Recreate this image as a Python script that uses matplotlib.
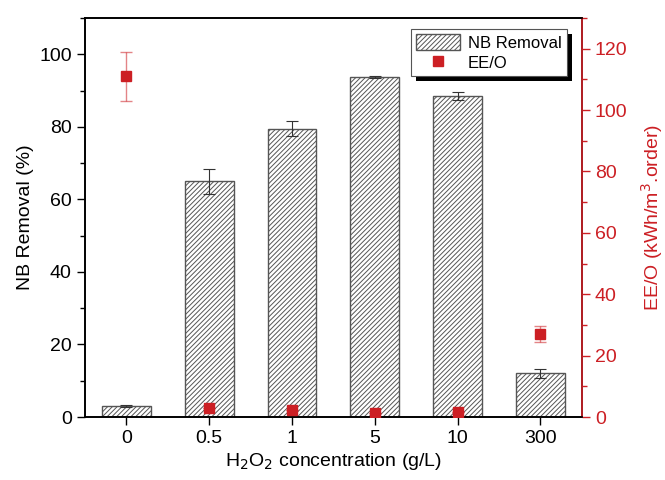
import numpy as np
import matplotlib
matplotlib.use("Agg")
import matplotlib.pyplot as plt
from matplotlib.ticker import MultipleLocator
from matplotlib.patches import Rectangle

plt.rcParams['font.family'] = ['Liberation Sans', 'DejaVu Sans']
plt.rcParams['hatch.linewidth'] = 0.7
plt.rcParams['hatch.color'] = '#333333'

# data
concentrations = ['0', '0.5', '1', '5', '10', '300']
nb_removal = [3.0, 65.0, 79.5, 93.8, 88.5, 12.0]
nb_err = [0.3, 3.5, 2.0, 0.3, 1.2, 1.3]
ee_o = [111.0, 3.0, 2.3, 1.2, 1.6, 27.0]
ee_o_err = [8.0, 0.0, 0.0, 0.0, 0.0, 2.7]

red = '#CC1F24'
x = np.arange(len(concentrations))

fig = plt.figure(figsize=(6.65, 4.8), dpi=100)
ax = fig.add_axes([85 / 665, 1 - 417 / 480, (581.7 - 85) / 665, (417 - 18) / 480])

bars = ax.bar(x, nb_removal, width=0.59, color='white', edgecolor='#555555',
              linewidth=1.0, hatch='///////', label='NB Removal', zorder=2)
ax.errorbar(x, nb_removal, yerr=nb_err, fmt='none', ecolor='#333333',
            elinewidth=0.8, capsize=4, capthick=0.8, zorder=3)

ax.set_xlim(-0.5, 5.5)
ax.set_ylim(0, 110)
ax.set_xticks(x)
ax.set_xticklabels(concentrations)
ax.yaxis.set_major_locator(MultipleLocator(20))
ax.yaxis.set_minor_locator(MultipleLocator(10))
ax.tick_params(axis='both', which='major', direction='out', length=6, width=1.0, labelsize=14)
ax.tick_params(axis='y', which='minor', direction='out', length=3.5, width=1.0)
ax.set_ylabel('NB Removal (%)', fontsize=14)
ax.set_xlabel('H$_2$O$_2$ concentration (g/L)', fontsize=14, labelpad=3)
for s in ax.spines.values():
    s.set_linewidth(1.2)

ax2 = ax.twinx()
ax2.errorbar(x, ee_o, yerr=ee_o_err, fmt='none', ecolor=red, alpha=0.55,
             elinewidth=1.0, capsize=4, capthick=1.0, zorder=3)
pts, = ax2.plot(x, ee_o, 's', color=red, markersize=7, label='EE/O', zorder=4)
ax2.set_ylim(0, 130)
ax2.yaxis.set_major_locator(MultipleLocator(20))
ax2.yaxis.set_minor_locator(MultipleLocator(10))
ax2.tick_params(axis='y', which='major', direction='out', length=6, width=1.0,
                labelsize=14, colors=red)
ax2.tick_params(axis='y', which='minor', direction='out', length=3.5, width=1.0, colors=red)
ax2.set_ylabel('EE/O (kWh/m$^3$.order)', fontsize=14, color=red, labelpad=8)
for s in ax2.spines.values():
    s.set_linewidth(1.2)
ax2.spines['right'].set_color(red)

leg = ax2.legend([bars, pts], ['NB Removal', 'EE/O'], loc='upper right',
                 bbox_to_anchor=(0.97, 0.972), borderaxespad=0, fontsize=12,
                 frameon=True, fancybox=False, edgecolor='#555555', framealpha=1.0,
                 handlelength=2.6, handleheight=1.1,
                 borderpad=0.3, labelspacing=0.2, handletextpad=0.5)
leg.get_frame().set_linewidth(0.8)
leg.set_zorder(6)

# drop shadow under the legend box, offset a few pixels down-right
fig.canvas.draw()
bb = leg.get_frame().get_window_extent()
shadow = Rectangle((bb.x0 + 5, bb.y0 - 5), bb.width, bb.height, transform=None,
                   facecolor='black', edgecolor='none', zorder=5.9, clip_on=False)
ax2.add_artist(shadow)

fig.savefig('out.png', dpi=100)
